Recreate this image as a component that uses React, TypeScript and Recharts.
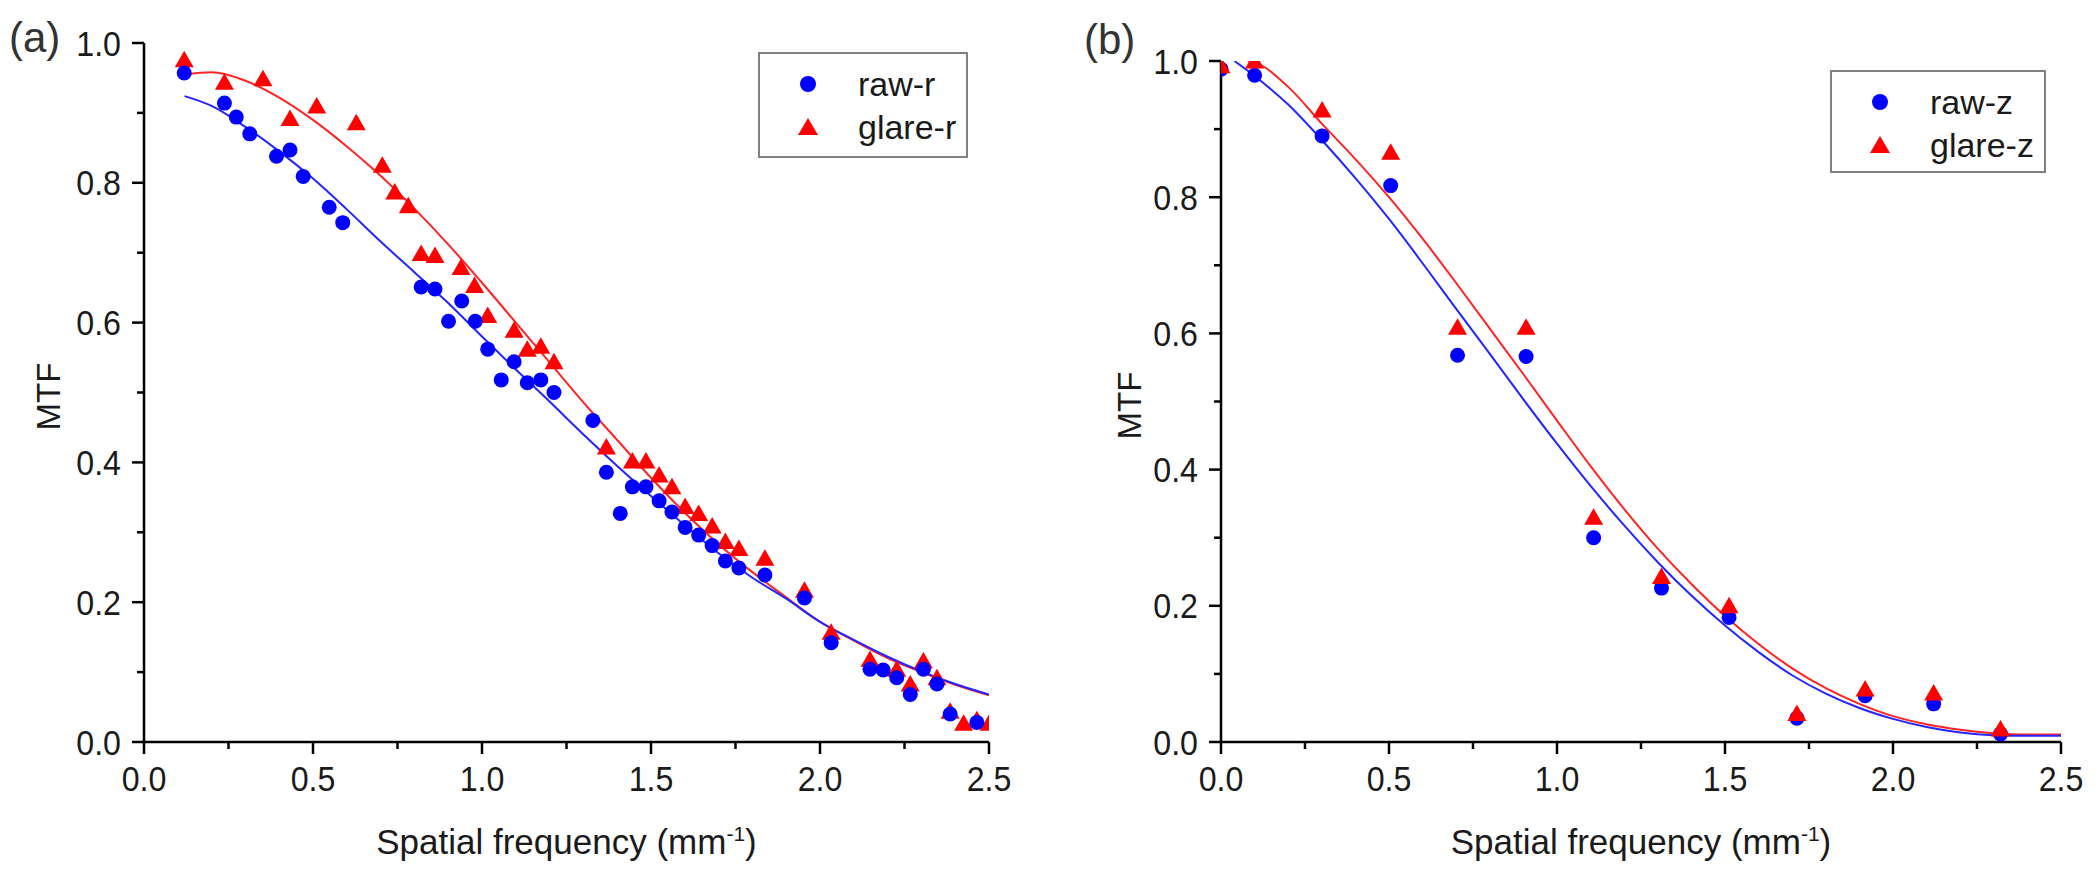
import React from 'react'
import { ComposedChart, Scatter, Line, XAxis, YAxis, Label } from 'recharts'

const FONT = '"Liberation Sans", Arial, sans-serif'
const TEXT = '#1a1a1a'
const BLUE = '#0000ff'
const RED = '#ff0000'

// (a) radial MTF, measured points [freq, mtf]
const rawR: [number, number][] = [
  [0.119, 0.957], [0.238, 0.914], [0.273, 0.894], [0.313, 0.87], [0.392, 0.838], [0.432, 0.847],
  [0.471, 0.809], [0.548, 0.765], [0.588, 0.743], [0.82, 0.651], [0.861, 0.648], [0.901, 0.602],
  [0.94, 0.631], [0.98, 0.602], [1.017, 0.562], [1.057, 0.518], [1.095, 0.544], [1.134, 0.514],
  [1.174, 0.518], [1.213, 0.5], [1.328, 0.46], [1.368, 0.386], [1.409, 0.327], [1.445, 0.365],
  [1.485, 0.365], [1.524, 0.345], [1.562, 0.329], [1.601, 0.307], [1.641, 0.296], [1.681, 0.281],
  [1.72, 0.259], [1.76, 0.249], [1.837, 0.239], [1.954, 0.206], [2.033, 0.142], [2.148, 0.104],
  [2.187, 0.103], [2.227, 0.092], [2.267, 0.068], [2.306, 0.104], [2.346, 0.083], [2.385, 0.04],
  [2.464, 0.028],
]
const glareR: [number, number][] = [
  [0.119, 0.976], [0.238, 0.944], [0.352, 0.949], [0.432, 0.892], [0.511, 0.91], [0.628, 0.886],
  [0.705, 0.825], [0.742, 0.787], [0.782, 0.767], [0.82, 0.699], [0.861, 0.696], [0.938, 0.679],
  [0.978, 0.653], [1.017, 0.61], [1.095, 0.589], [1.134, 0.562], [1.174, 0.566], [1.213, 0.544],
  [1.368, 0.422], [1.445, 0.402], [1.485, 0.402], [1.524, 0.382], [1.562, 0.365], [1.601, 0.337],
  [1.641, 0.327], [1.681, 0.309], [1.72, 0.287], [1.76, 0.277], [1.837, 0.263], [1.954, 0.217],
  [2.033, 0.157], [2.148, 0.118], [2.227, 0.104], [2.267, 0.083], [2.306, 0.116], [2.346, 0.092],
  [2.385, 0.044], [2.425, 0.027], [2.464, 0.032], [2.5, 0.027],
]
// (a) fitted curves
const rawRFit: [number, number][] = [
  [0.12, 0.924], [0.2, 0.91], [0.3, 0.88], [0.4, 0.845], [0.5, 0.806], [0.6, 0.762], [0.7, 0.716],
  [0.8, 0.672], [0.9, 0.628], [1.0, 0.58], [1.1, 0.533], [1.2, 0.487], [1.3, 0.44], [1.4, 0.395],
  [1.5, 0.352], [1.6, 0.31], [1.7, 0.27], [1.8, 0.235], [1.9, 0.205], [2.0, 0.172], [2.1, 0.146],
  [2.2, 0.122], [2.3, 0.101], [2.4, 0.083], [2.5, 0.068],
]
const glareRFit: [number, number][] = [
  [0.12, 0.955], [0.2, 0.958], [0.3, 0.946], [0.4, 0.922], [0.5, 0.89], [0.6, 0.852], [0.7, 0.81],
  [0.8, 0.763], [0.9, 0.712], [1.0, 0.657], [1.1, 0.6], [1.2, 0.543], [1.3, 0.486], [1.4, 0.432],
  [1.5, 0.378], [1.6, 0.328], [1.7, 0.283], [1.8, 0.243], [1.9, 0.207], [2.0, 0.172], [2.1, 0.145],
  [2.2, 0.12], [2.3, 0.1], [2.4, 0.082], [2.5, 0.067],
]

// (b) axial MTF
const rawZ: [number, number][] = [
  [0, 0.988], [0.1, 0.979], [0.301, 0.89], [0.505, 0.817], [0.704, 0.568], [0.908, 0.566],
  [1.109, 0.3], [1.311, 0.226], [1.512, 0.183], [1.714, 0.035], [1.917, 0.068], [2.121, 0.056],
  [2.32, 0.012],
]
const glareZ: [number, number][] = [
  [0, 0.993], [0.1, 1.0], [0.301, 0.928], [0.505, 0.866], [0.704, 0.609], [0.908, 0.609],
  [1.109, 0.33], [1.311, 0.243], [1.512, 0.2], [1.714, 0.042], [1.917, 0.078], [2.121, 0.072],
  [2.32, 0.019],
]
const rawZFit: [number, number][] = [
  [0.04, 1.0], [0.1, 0.978], [0.2, 0.936], [0.3, 0.884], [0.4, 0.828], [0.5, 0.768], [0.6, 0.703],
  [0.7, 0.636], [0.8, 0.57], [0.9, 0.503], [1.0, 0.438], [1.1, 0.376], [1.2, 0.318], [1.3, 0.264],
  [1.4, 0.215], [1.5, 0.171], [1.6, 0.132], [1.7, 0.098], [1.8, 0.071], [1.9, 0.05], [2.0, 0.034],
  [2.1, 0.022], [2.2, 0.014], [2.3, 0.01], [2.4, 0.009], [2.5, 0.009],
]
const glareZFit: [number, number][] = [
  [0.08, 1.0], [0.1, 0.998], [0.2, 0.962], [0.3, 0.908], [0.4, 0.856], [0.5, 0.8], [0.6, 0.739],
  [0.7, 0.674], [0.8, 0.607], [0.9, 0.54], [1.0, 0.472], [1.1, 0.405], [1.2, 0.342], [1.3, 0.284],
  [1.4, 0.232], [1.5, 0.185], [1.6, 0.144], [1.7, 0.108], [1.8, 0.079], [1.9, 0.056], [2.0, 0.038],
  [2.1, 0.026], [2.2, 0.018], [2.3, 0.013], [2.4, 0.011], [2.5, 0.011],
]

const xMajor = [0, 0.5, 1, 1.5, 2, 2.5]
const xMinor = [0.25, 0.75, 1.25, 1.75, 2.25]
const yMajor = [0, 0.2, 0.4, 0.6, 0.8, 1]
const yMinor = [0.1, 0.3, 0.5, 0.7, 0.9]

const toPts = (arr: [number, number][]) => arr.map(([x, y]) => ({ x, y }))

const circleShape = (p: any) => <circle cx={p.cx} cy={p.cy} r={7.5} fill={BLUE} />
const triShape = (p: any) => (
  <polygon points={`${p.cx},${p.cy - 9} ${p.cx + 9.5},${p.cy + 7.5} ${p.cx - 9.5},${p.cy + 7.5}`} fill={RED} />
)

// tick labels in the source are a touch narrow, so squeeze them a little
function TickText({ x, y, anchor, value }: { x: number; y: number; anchor: string; value: number }) {
  return (
    <text transform={`translate(${x} ${y}) scale(0.92 1)`} textAnchor={anchor} fontSize={35} fontFamily={FONT} fill={TEXT}>
      {value.toFixed(1)}
    </text>
  )
}

function XTick(p: any) {
  const v = p.payload.value
  const major = xMajor.includes(v)
  return (
    <g>
      <line x1={p.x} y1={p.y} x2={p.x} y2={p.y + (major ? 12 : 7)} stroke="#000" strokeWidth={2.5} />
      {major && <TickText x={p.x} y={p.y + 49} anchor="middle" value={v} />}
    </g>
  )
}

function YTick(p: any) {
  const v = p.payload.value
  const major = yMajor.includes(v)
  return (
    <g>
      <line x1={p.x} y1={p.y} x2={p.x - (major ? 12 : 7)} y2={p.y} stroke="#000" strokeWidth={2.5} />
      {major && <TickText x={p.x - 23} y={p.y + 12.5} anchor="end" value={v} />}
    </g>
  )
}

function XTitle(p: any) {
  const vb = p.viewBox
  if (!vb) return null
  return (
    <text x={vb.x + vb.width / 2} y={vb.y + 112} textAnchor="middle" fontSize={35} fontFamily={FONT} fill={TEXT}>
      Spatial frequency (mm<tspan dy={-13} fontSize={21}>-1</tspan><tspan dy={13}>)</tspan>
    </text>
  )
}

function YTitle(p: any, gap: number) {
  const vb = p.viewBox
  if (!vb) return null
  const x = vb.x + vb.width - gap
  const y = vb.y + vb.height / 2 + 4
  return (
    <text x={x} y={y} transform={`rotate(-90, ${x}, ${y})`} textAnchor="middle" fontSize={33} fontFamily={FONT} fill={TEXT}>
      MTF
    </text>
  )
}

interface PanelProps {
  left: number
  top: number
  axisWidth: number
  right: number
  raw: [number, number][]
  glare: [number, number][]
  rawFit: [number, number][]
  glareFit: [number, number][]
  rawOnTop: boolean
  titleGap: number
}

function Panel({ left, top, axisWidth, right, raw, glare, rawFit, glareFit, rawOnTop, titleGap }: PanelProps) {
  const rawSeries = <Scatter key="raw" data={toPts(raw)} dataKey="y" shape={circleShape} isAnimationActive={false} />
  const glareSeries = <Scatter key="glare" data={toPts(glare)} dataKey="y" shape={triShape} isAnimationActive={false} />
  return (
    <div style={{ position: 'absolute', left, top: 0 }}>
      <ComposedChart width={1050} height={879} margin={{ top, right, bottom: 0, left: 0 }}>
        <XAxis
          type="number" dataKey="x" domain={[0, 2.5]} ticks={[...xMajor, ...xMinor]} interval={0}
          allowDataOverflow tick={(p: any) => <XTick {...p} />} tickLine={false} tickSize={0} tickMargin={0}
          axisLine={{ stroke: '#000', strokeWidth: 2.5 }} height={137}
        >
          <Label content={(p: any) => <XTitle {...p} />} />
        </XAxis>
        <YAxis
          type="number" dataKey="y" domain={[0, 1]} ticks={[...yMajor, ...yMinor]} interval={0}
          allowDataOverflow tick={(p: any) => <YTick {...p} />} tickLine={false} tickSize={0} tickMargin={0}
          axisLine={{ stroke: '#000', strokeWidth: 2.5 }} width={axisWidth}
        >
          <Label content={(p: any) => YTitle(p, titleGap)} />
        </YAxis>
        {rawOnTop ? glareSeries : rawSeries}
        {rawOnTop ? rawSeries : glareSeries}
        <Line data={toPts(glareFit)} dataKey="y" type="monotone" stroke="#ff2424" strokeWidth={2} dot={false} isAnimationActive={false} />
        <Line data={toPts(rawFit)} dataKey="y" type="monotone" stroke="#2424ff" strokeWidth={2} dot={false} isAnimationActive={false} />
      </ComposedChart>
    </div>
  )
}

function LegendBox({ left, top, width, height, labels }: { left: number; top: number; width: number; height: number; labels: string[] }) {
  return (
    <div style={{ position: 'absolute', left, top, width, height, border: '2px solid #808080', boxSizing: 'border-box', background: '#fff' }}>
      <svg width={width} height={height} style={{ position: 'absolute', left: -2, top: -2 }}>
        <circle cx={50} cy={32} r={8} fill={BLUE} />
        <polygon points="50,66 60,83 40,83" fill={RED} />
        <text x={100} y={32} dy="0.36em" fontSize={34} fontFamily={FONT} fill={TEXT}>{labels[0]}</text>
        <text x={100} y={75} dy="0.36em" fontSize={34} fontFamily={FONT} fill={TEXT}>{labels[1]}</text>
      </svg>
    </div>
  )
}

const tagStyle: React.CSSProperties = { position: 'absolute', fontFamily: FONT, fontSize: 42, lineHeight: '42px', color: '#333' }

export default function App() {
  return (
    <div style={{ position: 'absolute', left: 0, top: 0, width: 2100, height: 879, background: '#fff', overflow: 'hidden' }}>
      <Panel left={0} top={43} axisWidth={144} right={61} raw={rawR} glare={glareR} rawFit={rawRFit} glareFit={glareRFit} rawOnTop titleGap={84} />
      <Panel left={1050} top={61} axisWidth={171} right={39} raw={rawZ} glare={glareZ} rawFit={rawZFit} glareFit={glareZFit} rawOnTop={false} titleGap={80} />
      <LegendBox left={758} top={52} width={210} height={106} labels={['raw-r', 'glare-r']} />
      <LegendBox left={1830} top={70} width={216} height={103} labels={['raw-z', 'glare-z']} />
      <div style={{ ...tagStyle, left: 9, top: 17 }}>(a)</div>
      <div style={{ ...tagStyle, left: 1084, top: 19 }}>(b)</div>
    </div>
  )
}
